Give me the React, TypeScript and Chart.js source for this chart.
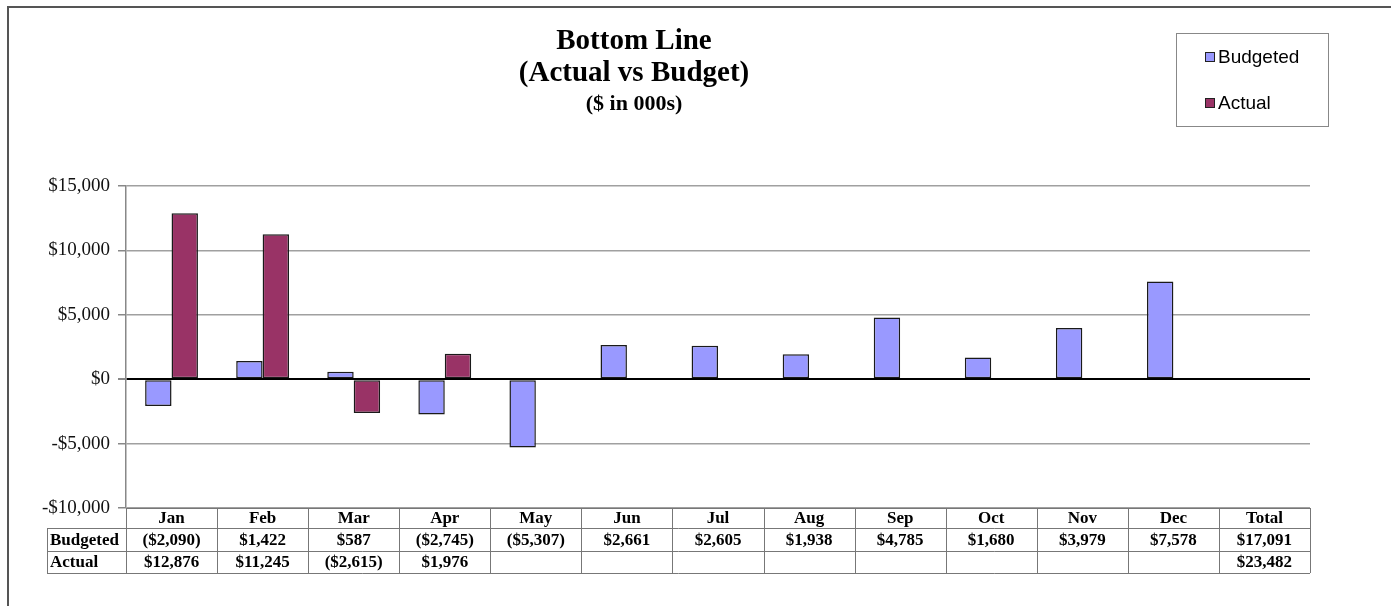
import React, { useEffect, useRef } from "react";
import { Chart, registerables } from "chart.js";

Chart.register(...registerables);

const months = ["Jan", "Feb", "Mar", "Apr", "May", "Jun", "Jul", "Aug", "Sep", "Oct", "Nov", "Dec"];
const columnLabels = [...months, "Total"];
const budgeted = [-2090, 1422, 587, -2745, -5307, 2661, 2605, 1938, 4785, 1680, 3979, 7578];
const actual: (number | null)[] = [12876, 11245, -2615, 1976, null, null, null, null, null, null, null, null];
const budgetedTotal = 17091;
const actualTotal = 23482;
const yTicks = [-10000, -5000, 0, 5000, 10000, 15000];
const titleLines = ["Bottom Line", "(Actual vs Budget)", "($ in 000s)"];
const seriesNames = ["Budgeted", "Actual"];
const seriesColors = ["#9999FF", "#993366"];

const SERIF = '"Liberation Serif", "Times New Roman", serif';
const SANS = '"Liberation Sans", Arial, sans-serif';

function fmtAxis(v: number) {
  const s = "$" + Math.abs(v).toLocaleString("en-US");
  return v < 0 ? "-" + s : s;
}
function fmtTable(v: number | null | undefined) {
  if (v === null || v === undefined) return "";
  const s = "$" + Math.abs(v).toLocaleString("en-US");
  return v < 0 ? "(" + s + ")" : s;
}

const decorPlugin = {
  id: "decor",
  afterDraw(chart: any) {
    const ctx = chart.ctx as CanvasRenderingContext2D;
    const area = chart.chartArea;
    const n = columnLabels.length;
    const w = (area.right - area.left) / n;
    const xs = chart.scales.x;
    ctx.save();

    // outer frame
    ctx.strokeStyle = "#555";
    ctx.lineWidth = 2;
    ctx.strokeRect(8, 7, 1500, 700);

    // title
    ctx.fillStyle = "#000";
    ctx.textAlign = "center";
    ctx.textBaseline = "middle";
    ctx.font = `bold 29px ${SERIF}`;
    ctx.fillText(titleLines[0], 634, 42);
    ctx.fillText(titleLines[1], 634, 74);
    ctx.font = `bold 22px ${SERIF}`;
    ctx.fillText(titleLines[2], 634, 104);

    // legend
    ctx.strokeStyle = "#888";
    ctx.lineWidth = 1;
    ctx.strokeRect(1176.5, 33.5, 152, 93);
    ctx.font = `19px ${SANS}`;
    ctx.textAlign = "left";
    const ly = [57, 103];
    for (let i = 0; i < 2; i++) {
      ctx.fillStyle = seriesColors[i];
      ctx.fillRect(1205, ly[i] - 4.5, 9, 9);
      ctx.strokeStyle = "#222";
      ctx.strokeRect(1205.5, ly[i] - 4.5, 9, 9);
      ctx.fillStyle = "#000";
      ctx.fillText(seriesNames[i], 1218, ly[i] + 1);
    }

    // data table
    const top = area.bottom;
    const rows = [top, top + 20, top + 43, top + 65];
    const labelLeft = 47;
    ctx.strokeStyle = "#777";
    ctx.lineWidth = 1;
    ctx.beginPath();
    ctx.moveTo(area.left, rows[0] + 0.5);
    ctx.lineTo(area.right, rows[0] + 0.5);
    for (let r = 1; r < 4; r++) {
      ctx.moveTo(labelLeft, rows[r] + 0.5);
      ctx.lineTo(area.right, rows[r] + 0.5);
    }
    for (let i = 0; i <= n; i++) {
      const x = Math.round(area.left + i * w) + 0.5;
      ctx.moveTo(x, rows[0]);
      ctx.lineTo(x, rows[3]);
    }
    ctx.moveTo(labelLeft + 0.5, rows[1]);
    ctx.lineTo(labelLeft + 0.5, rows[3]);
    ctx.stroke();

    ctx.fillStyle = "#000";
    ctx.font = `bold 17px ${SERIF}`;
    ctx.textBaseline = "middle";
    ctx.textAlign = "left";
    ctx.fillText(seriesNames[0], labelLeft + 3, (rows[1] + rows[2]) / 2 + 1);
    ctx.fillText(seriesNames[1], labelLeft + 3, (rows[2] + rows[3]) / 2 + 1);
    ctx.textAlign = "center";
    for (let i = 0; i < n; i++) {
      const cx = xs.getPixelForValue(i);
      ctx.fillText(columnLabels[i], cx, (rows[0] + rows[1]) / 2 + 1);
      const b = i < months.length ? budgeted[i] : budgetedTotal;
      const a = i < months.length ? actual[i] : actualTotal;
      ctx.fillText(fmtTable(b), cx, (rows[1] + rows[2]) / 2 + 1);
      ctx.fillText(fmtTable(a), cx, (rows[2] + rows[3]) / 2 + 1);
    }
    ctx.restore();
  },
};

export default function App() {
  const ref = useRef<HTMLCanvasElement>(null);
  useEffect(() => {
    document.body.style.margin = "0";
    const chart = new Chart(ref.current!, {
      type: "bar",
      data: {
        labels: columnLabels,
        datasets: [
          {
            label: seriesNames[0],
            data: budgeted,
            backgroundColor: seriesColors[0],
            borderColor: "#1a1a1a",
            borderWidth: 1.5,
            borderSkipped: false,
            categoryPercentage: 0.58,
            barPercentage: 1,
          },
          {
            label: seriesNames[1],
            data: actual,
            backgroundColor: seriesColors[1],
            borderColor: "#1a1a1a",
            borderWidth: 1.5,
            borderSkipped: false,
            categoryPercentage: 0.58,
            barPercentage: 1,
          },
        ],
      },
      options: {
        responsive: false,
        animation: false,
        layout: { padding: { left: 0, right: 81, top: 186, bottom: 98 } },
        plugins: {
          legend: { display: false },
          title: { display: false },
          tooltip: { enabled: false },
        },
        scales: {
          x: { display: false, grid: { display: false } },
          y: {
            min: yTicks[0],
            max: yTicks[yTicks.length - 1],
            afterBuildTicks(scale: any) {
              scale.ticks = yTicks.map((v) => ({ value: v }));
            },
            afterFit(scale: any) {
              scale.width = 126;
            },
            ticks: {
              callback: (v: any) => fmtAxis(Number(v)),
              color: "#111",
              font: { family: SERIF, size: 19 },
              padding: 8,
            },
            grid: {
              color: (c: any) => (c.tick && c.tick.value === 0 ? "#000" : "#a0a0a0"),
              lineWidth: (c: any) => (c.tick && c.tick.value === 0 ? 2 : 1.5),
              tickColor: "#888",
              tickLength: 8,
              drawTicks: true,
            },
            border: { color: "#888", width: 1.5 },
          },
        },
      },
      plugins: [decorPlugin],
    });
    return () => chart.destroy();
  }, []);
  return (
    <canvas
      ref={ref}
      width={1391}
      height={606}
      style={{ position: "fixed", left: 0, top: 0, width: 1391, height: 606 }}
    />
  );
}
